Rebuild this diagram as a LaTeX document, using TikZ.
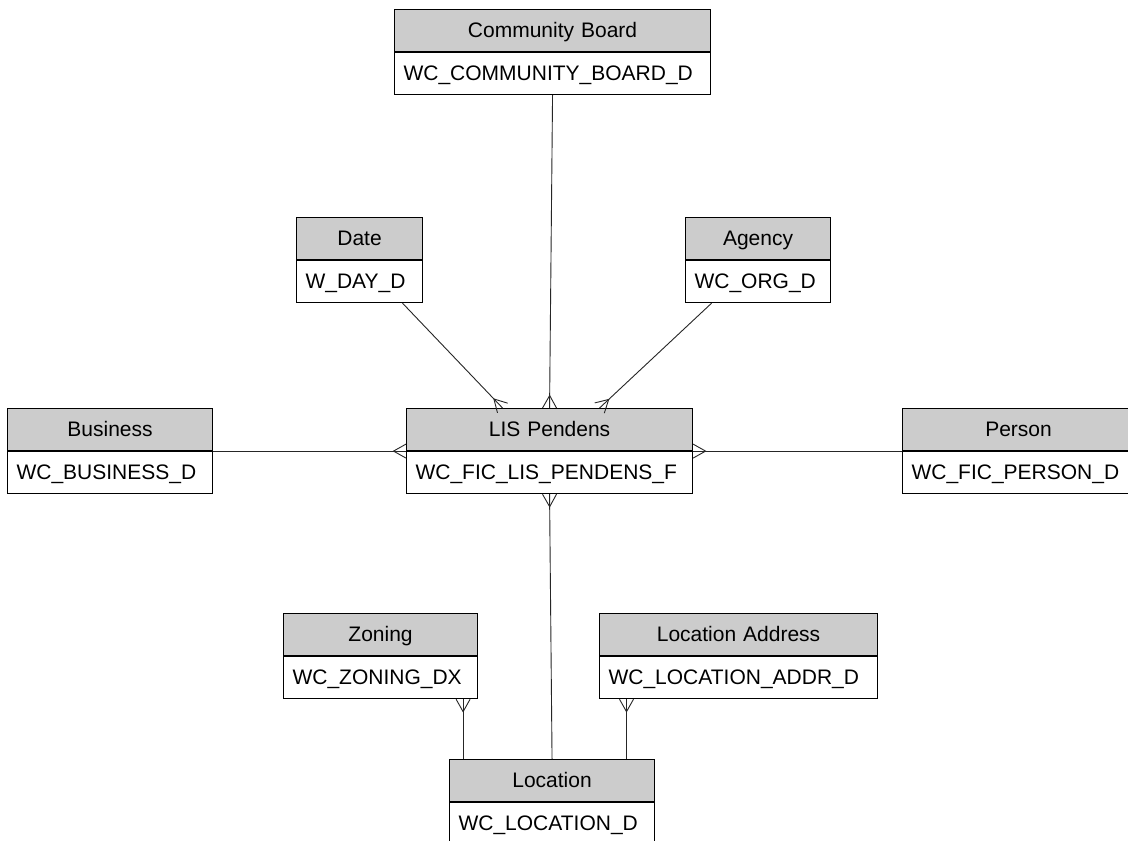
\documentclass[tikz,border=0pt]{standalone}
\usepackage{fontspec}
\setmainfont{Liberation Sans}
\usepackage{tikz}
\usetikzlibrary{positioning}
\usetikzlibrary{calc}

\tikzset{
  head/.style={draw, line width=1.1pt, fill=gray!40, inner xsep=9pt, inner ysep=0pt, minimum height=42pt, text height=17.5pt, text depth=3pt, align=center, font=\fontsize{21}{25}\selectfont},
  body/.style={draw, line width=1.1pt, fill=white, inner xsep=9pt, inner ysep=0pt, minimum height=42pt, text height=17.5pt, text depth=3pt, align=left, font=\fontsize{21}{25}\selectfont},
  link/.style={line width=0.9pt, draw=black!85},
}

% crow's foot at the second point
\newcommand{\crowfoot}[2]{%
  \draw[link] ($(#2)!7pt!90:(#1)$) -- ($(#2)!12.5pt!(#1)$) -- ($(#2)!7pt!-90:(#1)$);
}

\begin{document}
\begin{tikzpicture}[x=1pt, y=-1pt]

\fill[white] (0,0) rectangle (1128,841);
\useasboundingbox (0,0) rectangle (1128,841);
\clip (0,0) rectangle (1128,841);

% Draw the tables
\foreach \name/\x/\y/\w/\title/\table in {
  cb/394/9/316/Community Board/WC\_COMMUNITY\_BOARD\_D,
  date/296/217/126/Date/W\_DAY\_D,
  agency/685/217/145/Agency/WC\_ORG\_D,
  bus/7/408/205/Business/WC\_BUSINESS\_D,
  lis/406/408/286/LIS Pendens/WC\_FIC\_LIS\_PENDENS\_F,
  per/902/408/232/Person/WC\_FIC\_PERSON\_D,
  zon/283/613/194/Zoning/WC\_ZONING\_DX,
  la/599/613/278/Location Address/WC\_LOCATION\_ADDR\_D,
  loc/449/759/205/Location/WC\_LOCATION\_D}
{
  \pgfmathsetmacro{\tw}{\w-18}
  \node[head, text width=\tw pt, anchor=north west] (\name-h) at (\x,\y) {\title};
  \node[body, text width=\tw pt, below=0pt of \name-h] (\name) {\table};
}

% Draw the links
\coordinate (date-e) at ([xshift=43pt]date.south);
\coordinate (lis-a) at ([xshift=-47pt]lis-h.north);
\coordinate (agency-e) at ([xshift=-46.5pt]agency.south);
\coordinate (lis-b) at ([xshift=50pt]lis-h.north);
\coordinate (zon-e) at ([xshift=-15pt]zon.south east);
\coordinate (zon-l) at (zon-e |- loc-h.north);
\coordinate (la-e) at ([xshift=27.5pt]la.south west);
\coordinate (la-l) at (la-e |- loc-h.north);

\draw[link] (cb.south) -- (lis-h.north);
\crowfoot{cb.south}{lis-h.north}
\draw[link] (date-e) -- (lis-a);
\crowfoot{date-e}{lis-a}
\draw[link] (agency-e) -- (lis-b);
\crowfoot{agency-e}{lis-b}
\draw[link] (bus-h.south east) -- (lis-h.south west);
\crowfoot{bus-h.south east}{lis-h.south west}
\draw[link] (per-h.south west) -- (lis-h.south east);
\crowfoot{per-h.south west}{lis-h.south east}
\draw[link] (loc-h.north) -- (lis.south);
\crowfoot{loc-h.north}{lis.south}
\draw[link] (zon-l) -- (zon-e);
\crowfoot{zon-l}{zon-e}
\draw[link] (la-l) -- (la-e);
\crowfoot{la-l}{la-e}

\end{tikzpicture}
\end{document}
